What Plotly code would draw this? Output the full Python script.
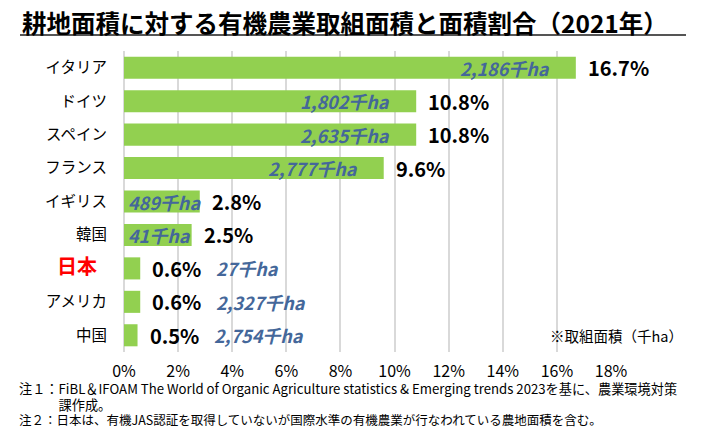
import plotly.graph_objects as go

countries = ["イタリア", "ドイツ", "スペイン", "フランス", "イギリス", "韓国", "日本", "アメリカ", "中国"]
share_pct = [16.7, 10.8, 10.8, 9.6, 2.8, 2.5, 0.6, 0.6, 0.5]
area_labels = ["2,186千ha", "1,802千ha", "2,635千ha", "2,777千ha", "489千ha", "41千ha", "27千ha", "2,327千ha", "2,754千ha"]
# where the area label sits: inside-end of bar, inside-start, or outside after the percent
area_pos = ["end", "end", "end", "end", "start", "start", "out", "out", "out"]
x_ticks = [0, 2, 4, 6, 8, 10, 12, 14, 16, 18]

FONT = "Noto Sans CJK JP"
GREEN = "#92D050"
BLUE = "#44679A"

fig = go.Figure()
fig.add_trace(go.Bar(
    y=countries, x=share_pct, orientation="h",
    marker=dict(color=GREEN, line=dict(width=0)),
    width=0.66, hoverinfo="skip",
))

ann = []
for c, v, a, p in zip(countries, share_pct, area_labels, area_pos):
    ann.append(dict(x=v, y=c, xref="x", yref="y", text=f"<b>{v:.1f}%</b>",
                    showarrow=False, xanchor="left", xshift=10,
                    font=dict(family=FONT, size=20, color="#000000")))
    lab = f"<b><i>{a}</i></b>"
    f = dict(family=FONT, size=18, color=BLUE)
    if p == "end":
        ann.append(dict(x=v, y=c, xref="x", yref="y", text=lab, showarrow=False,
                        xanchor="right", xshift=-24, font=f))
    elif p == "start":
        ann.append(dict(x=0, y=c, xref="x", yref="y", text=lab, showarrow=False,
                        xanchor="left", xshift=2, font=f))
    else:
        ann.append(dict(x=v, y=c, xref="x", yref="y", text=lab, showarrow=False,
                        xanchor="left", xshift=74, font=f))

# title
ann.append(dict(x=20, y=22.5, text="<b>耕地面積に対する有機農業取組面積と面積割合（2021年）</b>",
                showarrow=False, xanchor="left", yanchor="middle",
                font=dict(family=FONT, size=24.5, color="#000000")))
ann.append(dict(x=548, y=335, text="※取組面積（千ha）", showarrow=False, xanchor="left", yanchor="middle",
                font=dict(family=FONT, size=14.5, color="#000000")))
notes = ("<span style='font-size:13.2px'>注１：FiBL＆IFOAM The World of Organic Agriculture statistics &amp; Emerging trends 2023を基に、農業環境対策</span>"
         "<br><span style='font-size:13.2px'>　　　課作成。</span>"
         "<br><span style='font-size:12.5px'>注２：日本は、有機JAS認証を取得していないが国際水準の有機農業が行なわれている農地面積を含む。</span>")
ann.append(dict(x=17, y=404, text=notes, align="left",
                showarrow=False, xanchor="left", yanchor="middle", font=dict(family=FONT, size=12, color="#000000")))

# convert pixel-positioned annotations (non-data) to paper coords
W, H = 701, 434
L, R, T, B = 124, 90, 51, 82
pw, ph = W - L - R, H - T - B
for a in ann:
    if a.get("xref") != "x":
        px, py = a["x"], a["y"]
        a["xref"] = "paper"; a["yref"] = "paper"
        a["x"] = (px - L) / pw
        a["y"] = 1 - (py - T) / ph

ticktext = []
for c in countries:
    if c == "日本":
        ticktext.append("<span style='color:#FF0000;font-size:20px'><b>日本</b>\u2002</span>")
    else:
        ticktext.append(c)

fig.update_layout(
    width=W, height=H,
    margin=dict(l=L, r=R, t=T, b=B, autoexpand=False),
    paper_bgcolor="white", plot_bgcolor="white",
    showlegend=False,
    annotations=ann,
    shapes=[dict(type="line", xref="paper", yref="paper",
                 x0=(20 - L) / pw, x1=(686 - L) / pw,
                 y0=1 - (35 - T) / ph, y1=1 - (35 - T) / ph,
                 line=dict(color="#555555", width=2))],
    xaxis=dict(range=[0, 18], tickvals=x_ticks, ticktext=[f"{t}%" for t in x_ticks],
               showgrid=True, gridcolor="#D9D9D9", gridwidth=1.5,
               zeroline=True, zerolinecolor="#D9D9D9", zerolinewidth=1.5,
               showline=False, ticks="", ticklen=0, ticklabelstandoff=8, automargin=False,
               tickfont=dict(family=FONT, size=16, color="#000000"), fixedrange=True),
    yaxis=dict(categoryorder="array", categoryarray=countries, autorange="reversed",
               showgrid=False, zeroline=False, showline=False, ticks="", automargin=False,
               tickfont=dict(family=FONT, size=15.5, color="#000000"), ticklabelstandoff=16,
               tickmode="array", tickvals=countries, ticktext=ticktext, fixedrange=True),
)

fig.write_html("out.html", config={"displayModeBar": False},
               post_script="document.body.style.margin='0';document.body.style.overflow='hidden';")
